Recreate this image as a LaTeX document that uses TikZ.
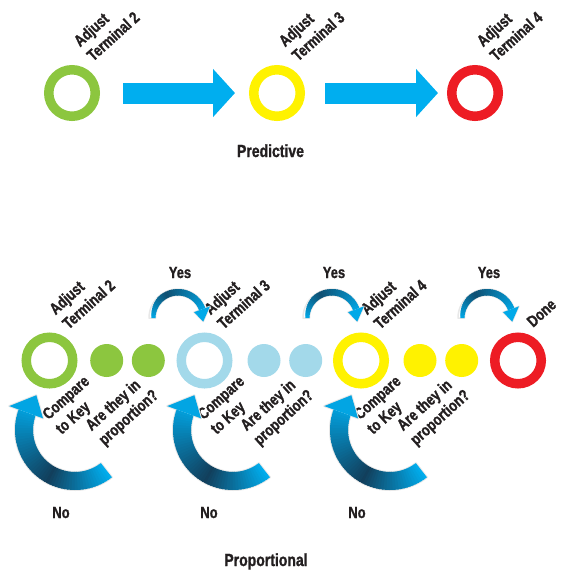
\documentclass[tikz,border=0pt]{standalone}
\usepackage{fontspec}
\newfontfamily\lblfont{Liberation Sans Bold}[FakeStretch=0.8, FakeBold=1.2]
\usetikzlibrary{arrows.meta,calc}
\definecolor{cgreen}{HTML}{8CC63F}
\definecolor{cyellow}{HTML}{FFF200}
\definecolor{cred}{HTML}{ED1C24}
\definecolor{cblue}{HTML}{A3D9EA}
\definecolor{ccyan}{HTML}{00AEEF}
\definecolor{cdark}{HTML}{123F5C}
\definecolor{ctext}{HTML}{231F20}
\newcommand\noarrow[2]{%
 \begin{scope}[shift={(#1,#2)}, yscale=-1]
  \draw[black!9, line width=2pt, line join=round]
    (-52:60) -- plot[domain=-52:-200, samples=60] (\x:60) -- (160:70) -- (138:52) -- (160:34)
    -- plot[domain=-200:-52, samples=60] (\x:42) -- cycle;
  \foreach \i in {0,...,49} {
    \pgfmathsetmacro\aa{-52-148*\i/50}
    \pgfmathsetmacro\bb{-52-148*min(\i+1.4,50)/50}
    \pgfmathsetmacro\tt{(\i+0.5)/50}
    \pgfmathsetmacro\dd{\tt<0.45 ? 100*\tt/0.45 : 100*(1-0.85*(\tt-0.45)/0.55)}
    \fill[cdark!\dd!ccyan] (\aa:60) -- (\bb:60) -- (\bb:42) -- (\aa:42) -- cycle;
  }
  \fill[ccyan!92!cdark] (160:70) -- (138:52) -- (160:34) -- cycle;
 \end{scope}}
\newcommand\yesarrow[2]{%
 \begin{scope}[shift={(#1,#2)}, yscale=-1]
  \draw[black!9, line width=1.5pt, line join=round]
    (180:27.5) -- plot[domain=180:20, samples=40] (\x:29) -- (20:34) -- (-8:25.5) -- (20:17)
    -- plot[domain=20:180, samples=40] (\x:22.5) -- cycle;
  \foreach \i in {0,...,39} {
    \pgfmathsetmacro\aa{180-160*\i/40}
    \pgfmathsetmacro\bb{180-160*min(\i+1.4,40)/40}
    \pgfmathsetmacro\tt{(\i+0.5)/40}
    \pgfmathsetmacro\dd{\tt<0.4 ? 5+80*\tt/0.4 : 85-75*(\tt-0.4)/0.6}
    \pgfmathsetmacro\ro{\tt<0.3 ? 26.5+2.5*\tt/0.3 : 29}
    \fill[cdark!\dd!ccyan] (\aa:\ro) -- (\bb:\ro) -- (\bb:22.5) -- (\aa:22.5) -- cycle;
  }
  \fill[ccyan!95!cdark] (20:34) -- (-8:25.5) -- (20:17) -- cycle;
 \end{scope}}
\begin{document}
\begin{tikzpicture}[x=1pt,y=-1pt,
  ring/.style={circle, draw=#1, line width=9.5pt, minimum size=46.5pt, inner sep=0pt},
  dot/.style={circle, fill=#1, minimum size=33pt, inner sep=0pt},
  lbl/.style={font=\lblfont\fontsize{16.2}{19.5}\selectfont, text=ctext, inner sep=0pt},
  rlbl/.style={lbl, rotate=42, anchor=base west, align=left},
  ttl/.style={font=\lblfont\fontsize{17.5}{20}\selectfont, text=ctext, inner sep=0pt, anchor=base},
  bigarrow/.style={ccyan, line width=21pt, -{Triangle[length=22pt,width=47pt]}},
]
\useasboundingbox (0,0) rectangle (571,571);
% ---------- Predictive ----------
\node[ring=cgreen]  (t2) at (72,93) {};
\node[ring=cyellow] (t3) at (277,93) {};
\node[ring=cred]    (t4) at (475,93) {};
\draw[bigarrow, shorten <=23pt, shorten >=14pt] (t2) -- (t3);
\draw[bigarrow, shorten <=20pt, shorten >=9pt] (t3) -- (t4);
\node[rlbl] (lt2) at (93,62) {Adjust\\Terminal 2};
\node[rlbl] (lt3) at (298,62) {Adjust\\Terminal 3};
\node[rlbl] (lt4) at (496,62) {Adjust\\Terminal 4};
\node[ttl] (pred) at (270.5,157) {Predictive};
% ---------- Proportional ----------
\node[ring=cgreen]  (b2) at (49.5,360.5) {};
\node[dot=cgreen]   (d21) at (106.7,360.5) {};
\node[dot=cgreen]   (d22) at (148.3,360.5) {};
\node[ring=cblue]   (b3) at (204.5,360.5) {};
\node[dot=cblue]    (d31) at (264,360.5) {};
\node[dot=cblue]    (d32) at (305.7,360.5) {};
\node[ring=cyellow] (b4) at (361,360.5) {};
\node[dot=cyellow]  (d41) at (420,360.5) {};
\node[dot=cyellow]  (d42) at (461.7,360.5) {};
\node[ring=cred]    (bd) at (518,360.5) {};
\node[rlbl] (lb2) at (68.5,330) {Adjust\\Terminal 2};
\node[rlbl] (lb3) at (223.5,330) {Adjust\\Terminal 3};
\node[rlbl] (lb4) at (380,330) {Adjust\\Terminal 4};
\node[rlbl] (lbd) at (533,328) {Done};
\foreach \c/\n in {49.5/2,204.5/3,361/4} {
  \node[rlbl] (ck\n) at (\c+12,435) {Compare\\to Key};
  \node[rlbl] (pr\n) at (\c+55,446) {Are they in\\proportion?};
}
\yesarrow{178}{318}
\yesarrow{332}{318}
\yesarrow{487}{318}
\node[lbl, anchor=base] (y1) at (180,278) {Yes};
\node[lbl, anchor=base] (y2) at (334,278) {Yes};
\node[lbl, anchor=base] (y3) at (489,278) {Yes};
\noarrow{75}{430}
\noarrow{233}{430}
\noarrow{390}{430}
\node[lbl, anchor=base] (n1) at (61,518) {No};
\node[lbl, anchor=base] (n2) at (209,518) {No};
\node[lbl, anchor=base] (n3) at (357,518) {No};
\node[ttl] (prop) at (266,566) {Proportional};
\end{tikzpicture}
\end{document}
